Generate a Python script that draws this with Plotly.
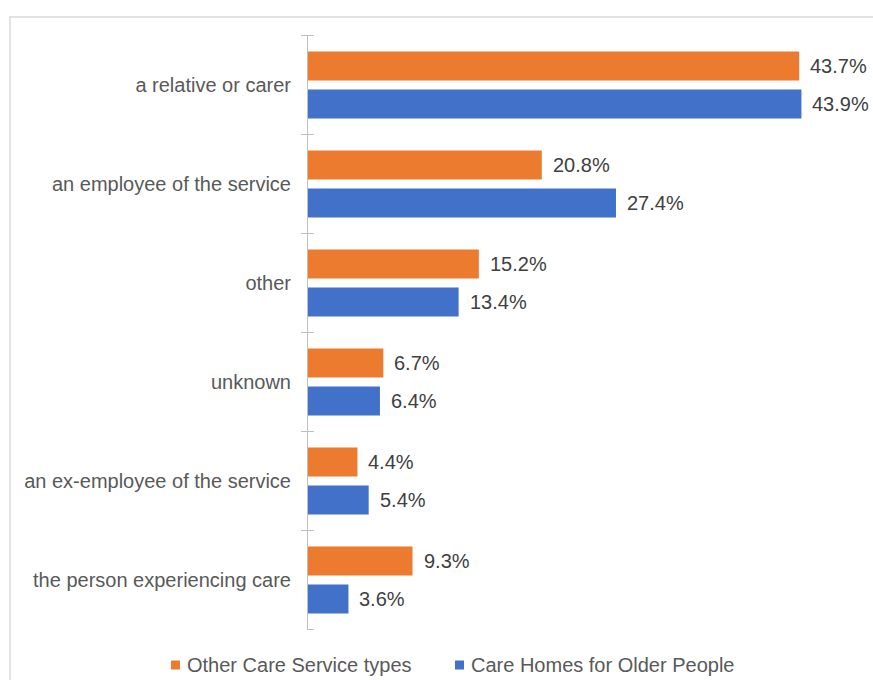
import plotly.graph_objects as go

categories = ["a relative or carer", "an employee of the service", "other", "unknown",
              "an ex-employee of the service", "the person experiencing care"]
other_care = [43.7, 20.8, 15.2, 6.7, 4.4, 9.3]
care_homes = [43.9, 27.4, 13.4, 6.4, 5.4, 3.6]
series_names = ["Other Care Service types", "Care Homes for Older People"]
series_colors = ["#EC7A2F", "#4171C8"]

W, H = 873, 680
ML, MR, MT, MB = 308, 3, 35, 50
pw, ph = W - ML - MR, H - MT - MB
FONT = "Liberation Sans, Arial"


def px_x(x):
    return (x - ML) / pw


def px_y(y):
    return (H - MB - y) / ph


fig = go.Figure()
annotations = []
for name, vals, col, ys in [(series_names[0], other_care, series_colors[0], 19),
                            (series_names[1], care_homes, series_colors[1], -19)]:
    fig.add_trace(go.Bar(
        y=categories, x=vals, name=name, orientation="h",
        marker=dict(color=col, line=dict(width=0)),
        cliponaxis=False, showlegend=False,
    ))
    for c, v in zip(categories, vals):
        annotations.append(dict(x=v, y=c, xref="x", yref="y", text=f"{v:.1f}%",
                                showarrow=False, xanchor="left", yanchor="middle",
                                xshift=9, yshift=ys,
                                font=dict(size=20, color="#404040", family=FONT)))

shapes = [dict(type="rect", xref="paper", yref="paper",
               x0=px_x(10), x1=1.2, y0=-0.3, y1=px_y(17),
               line=dict(color="#D9D9D9", width=1.5), layer="below")]
# crossing tick marks on the category axis (right-hand half; left half drawn by axis)
for i in range(len(categories) + 1):
    shapes.append(dict(type="line", xref="paper", yref="y",
                       x0=0, x1=6 / pw, y0=i - 0.5, y1=i - 0.5,
                       line=dict(color="#BFBFBF", width=1)))

# legend (manual, single row as in the reference)
legend_x = [171, 455]
for lx, name, col in zip(legend_x, series_names, series_colors):
    shapes.append(dict(type="rect", xref="paper", yref="paper",
                       x0=px_x(lx), x1=px_x(lx + 9), y0=px_y(669.5), y1=px_y(660.5),
                       fillcolor=col, line=dict(width=0)))
    annotations.append(dict(x=px_x(lx + 14), y=px_y(665), xref="paper", yref="paper",
                            text=name, showarrow=False, xanchor="left", yanchor="middle",
                            font=dict(size=20, color="#595959", family=FONT)))

fig.update_layout(
    width=W, height=H,
    margin=dict(l=ML, r=MR, t=MT, b=MB),
    paper_bgcolor="white", plot_bgcolor="white",
    barmode="group", bargap=0.232, bargroupgap=0.237,
    font=dict(family=FONT, size=20, color="#595959"),
    showlegend=False,
    xaxis=dict(range=[0, 50], visible=False, showgrid=False, zeroline=False),
    yaxis=dict(autorange="reversed", type="category", tickson="boundaries",
               ticks="outside", ticklen=6, tickcolor="#BFBFBF",
               showline=True, linecolor="#BFBFBF", linewidth=1,
               ticklabelstandoff=12, showgrid=False,
               tickfont=dict(size=20, color="#595959")),
    shapes=shapes,
    annotations=annotations,
)

fig.write_html("out.html")
